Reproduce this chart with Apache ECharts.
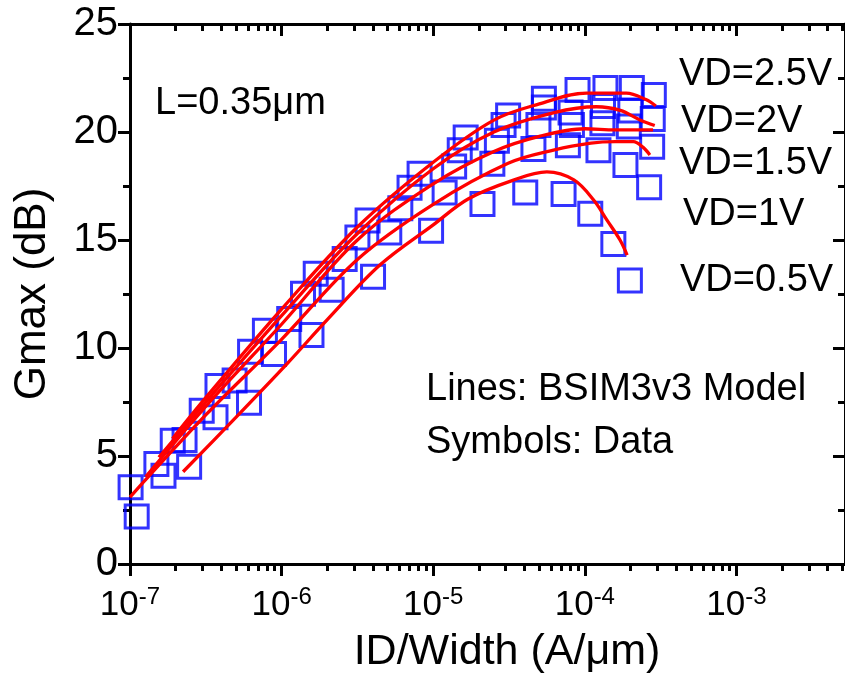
<!DOCTYPE html>
<html><head><meta charset="utf-8">
<script src="https://cdn.jsdelivr.net/npm/echarts@6/dist/echarts.min.js"></script>
<style>html,body{margin:0;padding:0;background:#fff}#c{width:845px;height:674px}</style>
</head><body><div id="c"></div>
<script>
// ---- Data ----
// Measured data (symbols): [ID/Width (A/um), Gmax (dB)]
const dataVD05 = [[1.107e-7,2.2],[2.455e-7,4.5],[6.095e-7,7.47],[1.574e-6,10.6],[4.009e-6,13.3],[9.68e-6,15.43],[2.113e-5,16.67],[4.046e-5,17.2],[7.24e-5,17.13],[1.086e-4,16.22],[1.542e-4,14.81],[1.982e-4,13.12]];
const dataVD1  = [[1.009e-7,3.55],[1.663e-7,4.09],[3.664e-7,6.79],[8.91e-7,9.72],[2.138e-6,12.7],[5.13e-6,15.35],[1.189e-5,17.2],[2.455e-5,18.53],[4.581e-5,19.21],[7.73e-5,19.39],[1.23e-4,19.15],[1.853e-4,18.47],[2.655e-4,17.44]];
const dataVD15 = [[2.29e-7,5.74],[4.898e-7,8.49],[1.122e-6,11.34],[2.606e-6,14.12],[6.067e-6,16.47],[1.374e-5,18.4],[2.63e-5,19.6],[4.943e-5,20.32],[8.22e-5,20.32],[1.306e-4,20.41],[1.95e-4,20.25],[2.78e-4,19.32]];
const dataVD2  = [[1.493e-7,4.63],[2.972e-7,7.1],[6.194e-7,9.83],[1.384e-6,12.51],[3.162e-6,15.12],[6.98e-6,17.42],[1.496e-5,19.15],[2.911e-5,20.32],[5.37e-5,21.13],[8.05e-5,20.9],[1.318e-4,21.2],[1.995e-4,21.0],[2.805e-4,20.6]];
const dataVD25 = [[1.914e-7,5.71],[3.776e-7,8.24],[7.76e-7,10.8],[1.679e-6,13.44],[3.69e-6,15.9],[8.13e-6,18.07],[1.637e-5,19.75],[3.119e-5,20.76],[5.37e-5,21.54],[8.95e-5,21.94],[1.368e-4,22.04],[2.042e-4,22.04],[2.851e-4,21.71]];
// BSIM3v3 model (lines)
const modelVD05 = [[2.239e-7,4.27],[5.012e-7,6.8],[1.096e-6,9.3],[1.995e-6,11.3],[4.467e-6,13.85],[1e-5,15.7],[1.698e-5,16.9],[3.311e-5,17.75],[5.623e-5,18.15],[8.47e-5,17.78],[1.143e-4,16.85],[1.396e-4,15.93],[1.706e-4,15.0],[1.901e-4,14.3]];
const modelVD1  = [[1e-7,3.1],[3.162e-7,6.9],[1e-6,10.4],[3.162e-6,14.1],[1e-5,16.65],[3.119e-5,18.55],[6.31e-5,19.17],[1.096e-4,19.48],[1.585e-4,19.55],[2.089e-4,19.55],[2.415e-4,19.3],[2.685e-4,18.94]];
const modelVD15 = [[1.27e-7,4.04],[3.162e-7,7.3],[1e-6,11.1],[3.162e-6,15.0],[1e-5,17.6],[2.512e-5,19.1],[5.012e-5,19.8],[1e-4,20.15],[1.585e-4,20.1],[2.512e-4,20.1],[2.818e-4,20.1]];
const modelVD2  = [[1.549e-7,4.94],[3.162e-7,7.5],[1e-6,11.5],[3.162e-6,15.3],[1e-5,18.3],[2.512e-5,20.0],[6.28e-5,20.9],[1.195e-4,21.17],[1.714e-4,21.0],[2.312e-4,20.56],[2.891e-4,20.3]];
const modelVD25 = [[1.905e-7,5.8],[3.162e-7,7.7],[1e-6,11.8],[3.162e-6,15.6],[1e-5,18.6],[2.512e-5,20.55],[5.012e-5,21.3],[1.028e-4,21.8],[1.875e-4,21.8],[2.529e-4,21.5],[2.938e-4,21.2]];
const seriesLabels = ['VD=2.5V','VD=2V','VD=1.5V','VD=1V','VD=0.5V'];
const xMajorTicks = [1e-7,1e-6,1e-5,1e-4,1e-3];
const xMin = 1e-7, xMax = 5.2e-3;
const xMinorTicks = [];
[-7,-6,-5,-4,-3].forEach(e => { for (let m = 2; m <= 9; m++) { const v = m * Math.pow(10, e); if (v < xMax) xMinorTicks.push(v); } });
const yTicks = [0,5,10,15,20,25];

const FONT = "'Liberation Sans', Arial, Helvetica, sans-serif";
const chart = echarts.init(document.getElementById('c'), null, {renderer:'canvas'});
const lineW = 3;
const decadePx = 153.7;
const gridW = decadePx * (Math.log10(xMax) - Math.log10(xMin));
const baseX = {type:'log', logBase:10, min:xMin, max:xMax, gridIndex:0, splitLine:{show:false}};
function xAx(pos, minor, inside, labels){
  return Object.assign({}, baseX, {
    position: pos,
    axisLine: {show: !minor, onZero:false, lineStyle:{color:'#000', width:lineW}},
    axisTick: {show:true, inside: inside, length: minor ? 7 : 12, customValues: minor ? xMinorTicks : xMajorTicks, lineStyle:{color:'#000', width:lineW}},
    axisLabel: labels ? {
      show:true, customValues: xMajorTicks, margin: 21, color:'#000',
      formatter: v => '{b|10}{s|' + Math.round(Math.log10(v)) + '}',
      rich: { b:{fontSize:35, fontFamily:FONT, color:'#000'}, s:{fontSize:24, fontFamily:FONT, color:'#000', padding:[0,0,16,0]} }
    } : {show:false}
  });
}
function yAx(pos, inside, labels){
  return {type:'value', min:0, max:25, interval:5, position:pos, gridIndex:0,
    splitLine:{show:false},
    axisLine:{show:true, onZero:false, lineStyle:{color:'#000', width:lineW}},
    axisTick:{show:true, inside:inside, length:12, lineStyle:{color:'#000', width:lineW}},
    minorTick:{show:true, splitNumber:2, length:7, lineStyle:{color:'#000', width:lineW}},
    axisLabel: labels ? {show:true, margin:12, fontSize:40, fontFamily:FONT, color:'#000', customValues: yTicks} : {show:false}
  };
}
const squareStyle = {color:'rgba(0,0,0,0)', borderColor:'#0000ff', borderWidth:3};
function sc(name, d){ return {type:'scatter', name, data:d, symbol:'rect', symbolSize:23, itemStyle:squareStyle, clip:false, z:3, xAxisIndex:0, yAxisIndex:0, silent:true}; }
function ln(name, d){ return {type:'line', name, data:d, smooth:0.35, showSymbol:false, symbol:'none', lineStyle:{color:'#ff0000', width:3.3}, z:4, clip:false, xAxisIndex:0, yAxisIndex:0, silent:true}; }

const txt = (t, x, y, size, extra) => Object.assign({type:'text', x, y, z:10, style:{text:t, fontSize:size, fontFamily:FONT, fill:'#000', textAlign:'left', textVerticalAlign:'middle'}}, extra||{});

chart.setOption({
  animation:false,
  backgroundColor:'#fff',
  grid:{left:130, top:24, width:gridW, height:540, containLabel:false},
  xAxis:[ xAx('bottom', false, false, true), xAx('bottom', true, false, false), xAx('top', false, true, false), xAx('top', true, true, false) ],
  yAxis:[ yAx('left', false, true), yAx('right', true, false) ],
  series:[
    sc(seriesLabels[4], dataVD05), sc(seriesLabels[3], dataVD1), sc(seriesLabels[2], dataVD15), sc(seriesLabels[1], dataVD2), sc(seriesLabels[0], dataVD25),
    ln('m05', modelVD05), ln('m1', modelVD1), ln('m15', modelVD15), ln('m2', modelVD2), ln('m25', modelVD25)
  ],
  graphic:[
    txt('L=0.35μm', 155, 104, 38),
    txt(seriesLabels[0], 679, 75, 38),
    txt(seriesLabels[1], 681, 122, 38),
    txt(seriesLabels[2], 679, 164, 38),
    txt(seriesLabels[3], 683, 215, 38),
    txt(seriesLabels[4], 680, 281, 38),
    txt('Lines: BSIM3v3 Model', 426, 390, 38),
    txt('Symbols: Data', 426, 443, 38),
    {type:'text', x:507, y:652, z:10, style:{text:'ID/Width (A/μm)', fontSize:43, fontFamily:FONT, fill:'#000', textAlign:'center', textVerticalAlign:'middle'}},
    {type:'text', x:33, y:294, rotation:Math.PI/2, z:10, style:{text:'Gmax (dB)', fontSize:44, fontFamily:FONT, fill:'#000', textAlign:'center', textVerticalAlign:'middle'}}
  ]
});
</script></body></html>
